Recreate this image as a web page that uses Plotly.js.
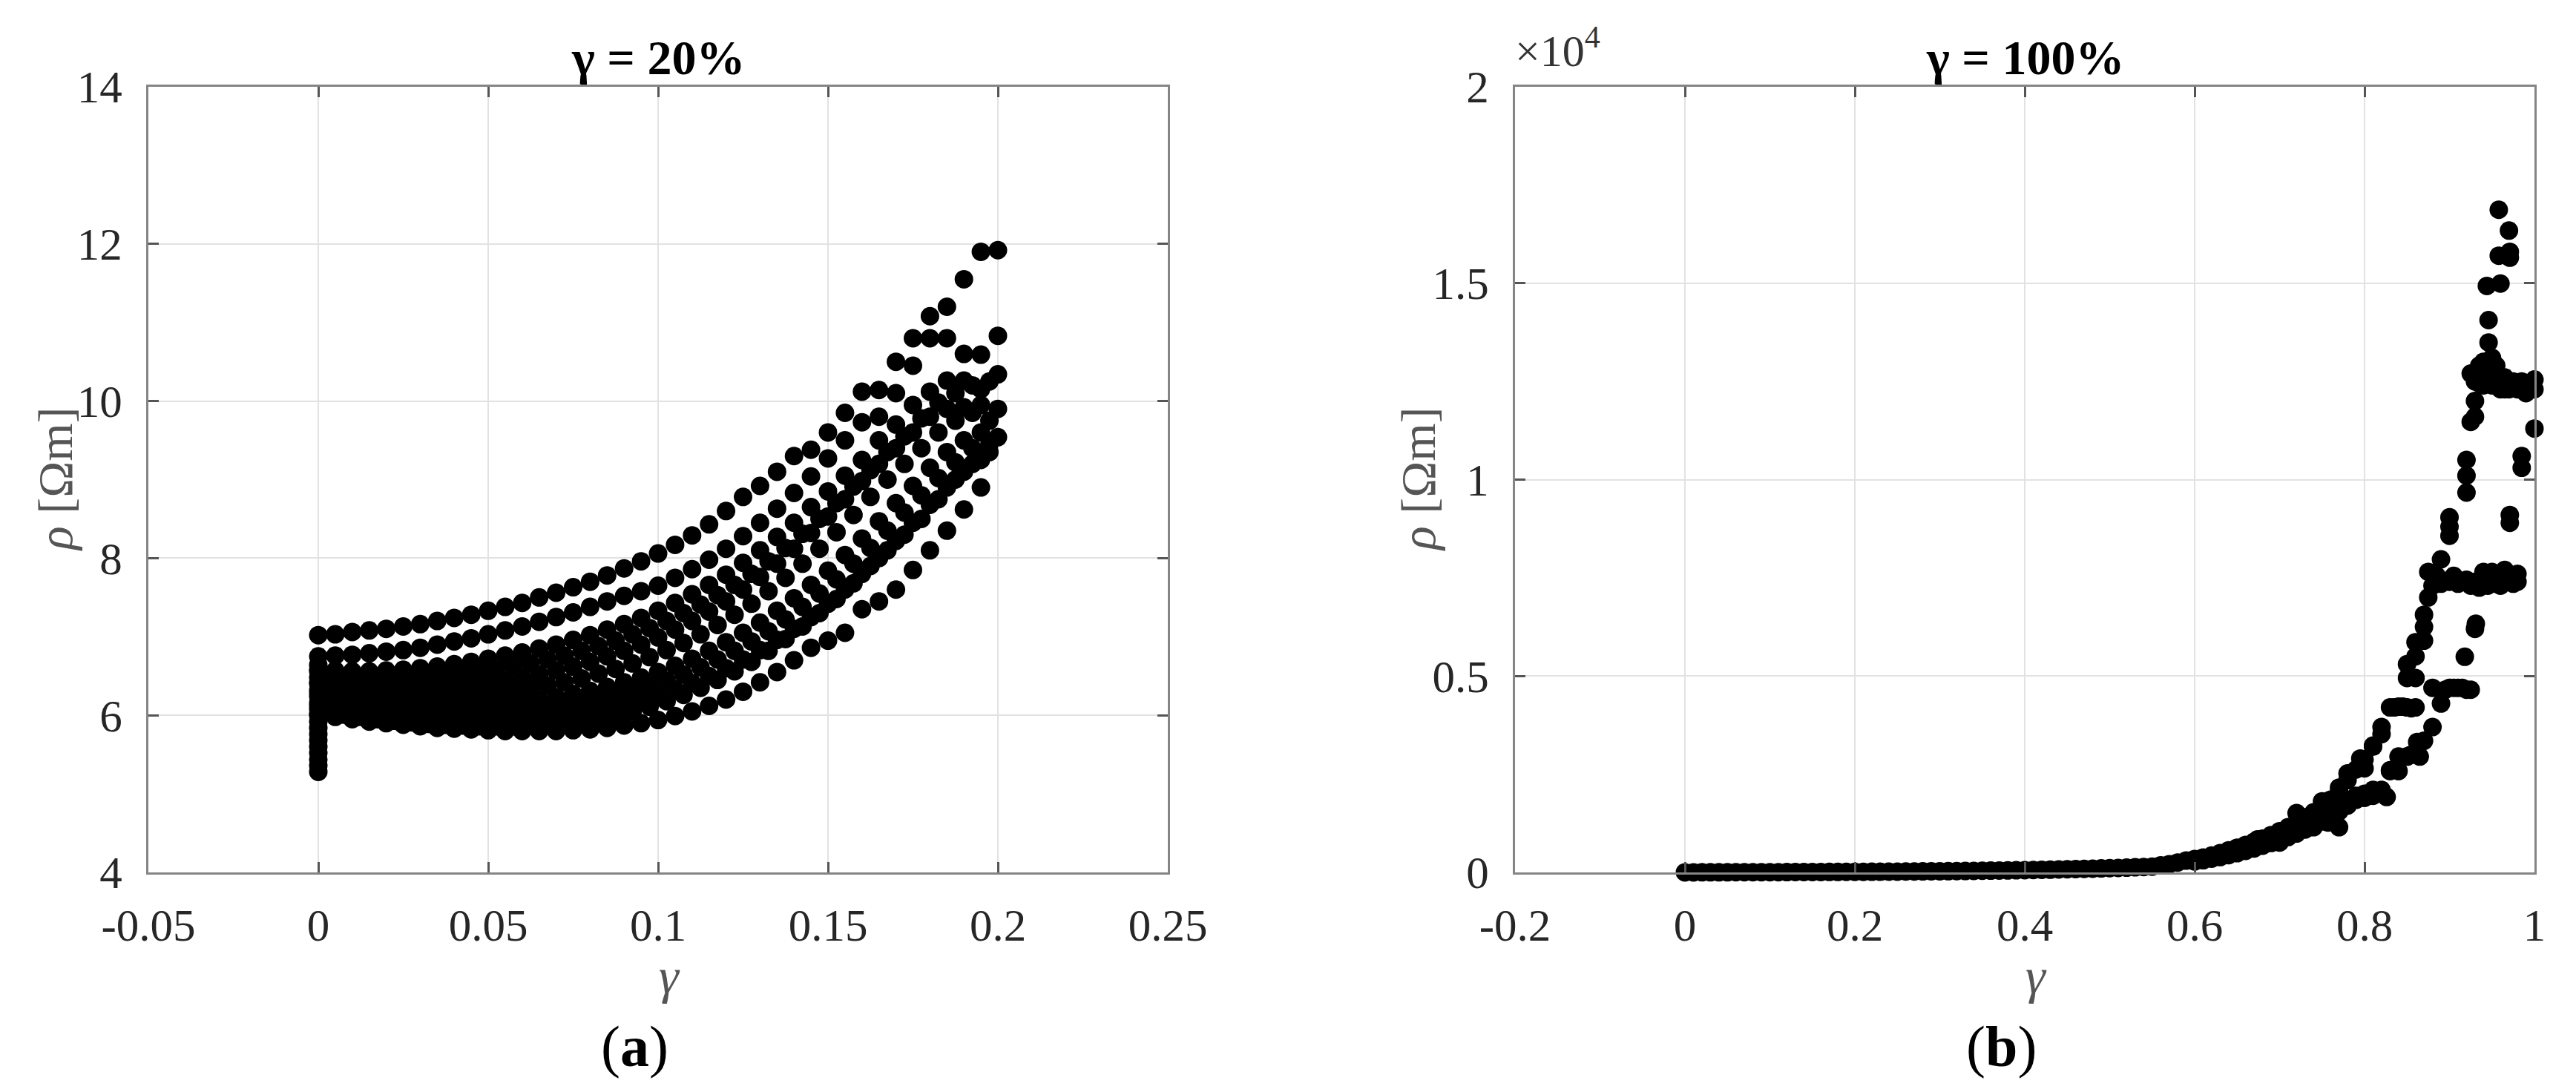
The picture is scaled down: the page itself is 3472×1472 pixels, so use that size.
<!DOCTYPE html>
<html>
<head>
<meta charset="utf-8">
<script src="https://cdn.plot.ly/plotly-3.0.1.min.js"></script>
<style>
    html, body { margin: 0; padding: 0; background: #fff; }
    #chart { width: 3472px; height: 1472px; }
</style>
</head>
<body>
<div id="chart"></div>
<script>
// ---------- (a) gamma = 20% ----------
// grid of gamma values shared by the curves
const gammaA = [0, 0.005, 0.01, 0.015, 0.02, 0.025, 0.03, 0.035, 0.04, 0.045,
    0.05, 0.055, 0.06, 0.065, 0.07, 0.075, 0.08, 0.085, 0.09, 0.095,
    0.1, 0.105, 0.11, 0.115, 0.12, 0.125, 0.13, 0.135, 0.14, 0.145,
    0.15, 0.155, 0.16, 0.165, 0.17, 0.175, 0.18, 0.185, 0.19, 0.195, 0.2];

const rhoA1 = [7.02, 7.03, 7.06, 7.08, 7.10, 7.13, 7.16, 7.20, 7.24, 7.28,
    7.33, 7.38, 7.43, 7.50, 7.56, 7.63, 7.70, 7.78, 7.87, 7.96,
    8.06, 8.17, 8.29, 8.43, 8.60, 8.78, 8.92, 9.10, 9.30, 9.38,
    9.60, 9.85, 10.12, 10.14, 10.50, 10.80, 11.08, 11.20, 11.55, 11.90, 11.92];
const rhoA2 = [6.75, 6.76, 6.77, 6.79, 6.81, 6.83, 6.86, 6.90, 6.94, 6.98,
    7.03, 7.08, 7.13, 7.19, 7.25, 7.31, 7.38, 7.45, 7.52, 7.58,
    7.65, 7.75, 7.86, 7.98, 8.12, 8.28, 8.45, 8.63, 8.83, 9.04,
    9.27, 9.50, 9.73, 9.80, 10.10, 10.45, 10.80, 10.80, 10.60, 10.59, 10.83];
const rhoA3 = [6.58, 6.57, 6.56, 6.56, 6.57, 6.58, 6.60, 6.62, 6.65, 6.68,
    6.72, 6.76, 6.80, 6.85, 6.90, 6.96, 7.02, 7.09, 7.16, 7.24,
    7.33, 7.43, 7.54, 7.66, 7.79, 7.94, 8.10, 8.27, 8.45, 8.65,
    8.85, 9.05, 9.25, 9.50, 9.70, 9.95, 10.12, 10.26, 10.26, 10.15, 10.34];
const rhoA4 = [6.42, 6.40, 6.38, 6.36, 6.35, 6.35, 6.35, 6.36, 6.37, 6.39,
    6.41, 6.44, 6.48, 6.52, 6.57, 6.62, 6.68, 6.75, 6.82, 6.90,
    6.99, 7.09, 7.20, 7.32, 7.45, 7.60, 7.76, 7.93, 8.12, 8.32,
    8.53, 8.75, 8.98, 9.20, 9.40, 9.60, 9.80, 9.90, 9.92, 9.95, 9.90];
const rhoA5 = [6.28, 6.25, 6.22, 6.20, 6.18, 6.16, 6.15, 6.14, 6.14, 6.14,
    6.15, 6.16, 6.18, 6.20, 6.23, 6.27, 6.31, 6.36, 6.42, 6.48,
    6.55, 6.63, 6.72, 6.82, 6.93, 7.05, 7.18, 7.33, 7.49, 7.66,
    7.84, 8.04, 8.25, 8.47, 8.70, 8.92, 9.15, 9.35, 9.50, 9.60, 9.54];
const rhoA6 = [6.12, 6.08, 6.04, 6.01, 5.98, 5.96, 5.94, 5.93, 5.92, 5.92,
    5.92, 5.93, 5.94, 5.96, 5.98, 6.01, 6.05, 6.09, 6.14, 6.20,
    6.26, 6.33, 6.41, 6.50, 6.60, 6.71, 6.83, 6.96, 7.10, 7.25,
    7.42, 7.60, 7.80, 8.00, 8.22, 8.45, 8.68, 8.90, 9.10, 9.25, null];
const rhoA7 = [6.02, 5.98, 5.95, 5.92, 5.90, 5.88, 5.86, 5.84, 5.83, 5.82,
    5.81, 5.80, 5.80, 5.80, 5.80, 5.81, 5.82, 5.84, 5.87, 5.90,
    5.94, 5.99, 6.05, 6.12, 6.20, 6.30, 6.42, 6.55, 6.70, 6.86,
    6.95, 7.05, 7.35, 7.45, 7.60, 7.85, 8.10, 8.35, 8.62, 8.90, null];

// curves sampled between the main grid
const gammaAh = [0.0025, 0.0075, 0.0125, 0.0175, 0.0225, 0.0275, 0.0325, 0.0375, 0.0425, 0.0475,
    0.0525, 0.0575, 0.0625, 0.0675, 0.0725, 0.0775, 0.0825, 0.0875, 0.0925, 0.0975,
    0.1025, 0.1075, 0.1125, 0.1175, 0.1225, 0.1275, 0.1325, 0.1375, 0.1425, 0.1475,
    0.1525, 0.1575, 0.1625, 0.1675, 0.1725, 0.1775, 0.1825, 0.1875, 0.1925, 0.1975];
const rhoA8 = [6.34, 6.31, 6.29, 6.27, 6.26, 6.25, 6.25, 6.25, 6.26, 6.27,
    6.29, 6.31, 6.34, 6.38, 6.42, 6.47, 6.53, 6.59, 6.66, 6.74,
    6.83, 6.92, 7.03, 7.15, 7.28, 7.42, 7.58, 7.75, 7.93, 8.12,
    8.33, 8.55, 8.78, 9.00, 9.20, 9.40, 9.60, 9.75, 9.85, 9.75];
const rhoA9 = [6.05, 6.01, 5.98, 5.95, 5.93, 5.91, 5.89, 5.88, 5.87, 5.86,
    5.86, 5.86, 5.87, 5.88, 5.90, 5.93, 5.96, 6.00, 6.05, 6.11,
    6.18, 6.26, 6.35, 6.45, 6.56, 6.68, 6.82, 6.97, 7.13, 7.30,
    7.48, 7.68, 7.90, 8.10, 8.30, 8.50, 8.75, 9.00, 9.20, 9.35];
const rhoA10 = [6.50, 6.49, 6.48, 6.47, 6.47, 6.47, 6.48, 6.50, 6.52, 6.55,
    6.58, 6.62, 6.66, 6.71, 6.76, 6.82, 6.88, 6.95, 7.03, 7.11,
    7.20, 7.30, 7.41, 7.53, 7.66, 7.80, 7.96, 8.13, 8.31, 8.50,
    8.70, 8.91, 9.12, 9.35, 9.55, 9.78, 9.98, 10.10, 10.20, 10.25];
const rhoA11 = [6.20, 6.17, 6.13, 6.10, 6.08, 6.06, 6.05, 6.04, 6.04, 6.04,
    6.05, 6.06, 6.08, 6.10, 6.13, 6.16, 6.20, 6.25, 6.31, 6.37,
    6.44, 6.52, 6.61, 6.71, 6.82, 6.94, 7.07, 7.22, 7.38, 7.55,
    7.73, 7.93, 8.13, 8.35, 8.58, 8.80, 9.02, 9.22, 9.40, 9.45];

// column of points at gamma = 0
const gammaA0 = [0, 0, 0, 0, 0, 0, 0, 0, 0, 0, 0, 0, 0, 0, 0, 0, 0, 0];
const rhoA0 = [5.28, 5.36, 5.44, 5.52, 5.60, 5.68, 5.76, 5.84, 5.92, 6.00,
    6.08, 6.16, 6.24, 6.32, 6.40, 6.48, 6.56, 6.64];

// ---------- (b) gamma = 100% ----------
const gammaB0 = [0, 0.01, 0.02, 0.03, 0.04, 0.05, 0.06, 0.07, 0.08, 0.09,
    0.1, 0.11, 0.12, 0.13, 0.14, 0.15, 0.16, 0.17, 0.18, 0.19,
    0.2, 0.21, 0.22, 0.23, 0.24, 0.25, 0.26, 0.27, 0.28, 0.29,
    0.3, 0.31, 0.32, 0.33, 0.34, 0.35, 0.36, 0.37, 0.38, 0.39,
    0.4, 0.41, 0.42, 0.43, 0.44, 0.45, 0.46, 0.47, 0.48, 0.49,
    0.5, 0.51, 0.52, 0.53, 0.54, 0.55];
const rhoB0 = [2, 2, 3, 3, 4, 4, 5, 5, 6, 6,
    7, 7, 8, 9, 9, 10, 11, 12, 13, 14,
    15, 16, 17, 18, 20, 21, 23, 24, 26, 28,
    30, 32, 34, 37, 39, 42, 45, 48, 51, 55,
    58, 62, 66, 70, 75, 80, 85, 90, 96, 102,
    108, 115, 122, 130, 138, 147];

const gammaB1 = [0.56, 0.57, 0.58, 0.59, 0.6, 0.61, 0.62, 0.63, 0.64, 0.65,
    0.66, 0.67, 0.68, 0.69, 0.7, 0.71, 0.72, 0.73, 0.74, 0.75,
    0.76, 0.77, 0.78, 0.79, 0.8, 0.81, 0.82, 0.83, 0.84, 0.85,
    0.86, 0.87, 0.88, 0.89, 0.9, 0.91, 0.92, 0.93, 0.94, 0.95,
    0.96, 0.97, 0.98];
const rhoB1 = [180, 210, 250, 300, 340, 380, 430, 490, 560, 630,
    700, 780, 860, 950, 1050, 1150, 1270, 1400, 1530, 1700,
    1850, 2050, 2350, 2620, 2880, 3200, 3700, 4200, 4220, 4200,
    4950, 5900, 7300, 7350, 7400, 7350, 7450, 7400, 7500, 7650,
    7450, 7500, 7400];

const gammaB2 = [0.6, 0.61, 0.62, 0.63, 0.64, 0.65, 0.66, 0.67, 0.68, 0.69,
    0.7, 0.71, 0.72, 0.73, 0.74, 0.75, 0.76, 0.77, 0.78, 0.79,
    0.8, 0.81, 0.82, 0.83, 0.84, 0.85, 0.86, 0.87, 0.88, 0.89,
    0.9, 0.91, 0.92, 0.93];
const rhoB2 = [280, 310, 350, 390, 440, 490, 550, 610, 680, 750,
    820, 900, 990, 1090, 1200, 1300, 1400, 1550, 1700, 1850,
    1900, 1950, 2100, 2600, 2950, 2950, 3000, 3350, 3700, 4300,
    4700, 4700, 4650, 6200];

// scattered points of the upper cloud
const gammaB3 = [0.76, 0.77, 0.78, 0.8, 0.81, 0.82, 0.826, 0.81, 0.84, 0.835,
    0.845, 0.855, 0.86, 0.85, 0.85, 0.86, 0.86, 0.862, 0.87, 0.87,
    0.875, 0.875, 0.88, 0.89, 0.9, 0.9, 0.9, 0.905, 0.915, 0.918,
    0.92, 0.92, 0.92, 0.931, 0.93, 0.93, 0.93, 0.935, 0.94, 0.94,
    0.945, 0.945, 0.946, 0.946, 0.95, 0.95, 0.944, 0.955, 0.955, 0.958,
    0.958, 0.96, 0.96, 0.965, 0.97, 0.971, 0.971, 0.97, 0.975, 0.98,
    0.985, 0.99, 0.995, 1.0, 1.0, 0.99, 0.971, 0.971, 0.985, 0.985,
    1.0, 0.965, 0.975, 0.98, 0.955, 0.935, 0.905, 0.925, 0.945, 0.885,
    0.94, 0.96, 0.895, 0.925, 0.85, 0.855, 0.865, 0.83, 0.795, 0.79,
    0.8, 0.75, 0.74, 0.72, 0.725, 0.77, 0.757, 0.71, 0.694, 0.674,
    0.7, 0.74, 0.65, 0.925, 0.935, 0.95, 0.965, 0.925];
const rhoB3 = [1820, 2160, 2520, 2650, 3230, 3520, 1920, 2100, 2580, 4200,
    4220, 4180, 4200, 4950, 5300, 5500, 5860, 3320, 6250, 6560,
    7000, 7650, 4700, 7970, 8570, 8800, 9040, 4700, 4700, 5490,
    9670, 10100, 10500, 6330, 11600, 12000, 12500, 12900, 12400, 13000,
    12500, 12900, 13490, 14060, 12400, 12800, 14930, 12400, 12900, 15700,
    16870, 14990, 12300, 12600, 16340, 15800, 15650, 12300, 12500, 12300,
    12500, 12200, 12400, 12300, 12550, 12450, 9100, 8900, 10600, 10300,
    11300, 7700, 7350, 7600, 7350, 7250, 7550, 7300, 7300, 7550,
    7650, 7300, 4650, 4650, 2950, 3000, 2950, 2580, 2900, 1950,
    2000, 1810, 1510, 1510, 1330, 1150, 1270, 1090, 900, 840,
    760, 1150, 600, 11470, 12450, 13100, 12300, 12700];

// ticks
const xTicksA = [-0.05, 0, 0.05, 0.1, 0.15, 0.2, 0.25];
const xTickTextA = ['-0.05', '0', '0.05', '0.1', '0.15', '0.2', '0.25'];
const yTicksA = [4, 6, 8, 10, 12, 14];
const xTicksB = [-0.2, 0, 0.2, 0.4, 0.6, 0.8, 1];
const xTickTextB = ['-0.2', '0', '0.2', '0.4', '0.6', '0.8', '1'];
const yTicksB = [0, 5000, 10000, 15000, 20000];
const yTickTextB = ['0', '0.5', '1', '1.5', '2'];

// ---------- layout ----------
const W = 3472, H = 1472;
const px = x => x / W;
const py = y => 1 - y / H;
const FONT = '"Liberation Serif", "Times New Roman", serif';

function dots(x, y, xa, ya) {
    return {
        x: x, y: y, xaxis: xa, yaxis: ya,
        type: 'scatter', mode: 'markers',
        marker: { color: '#000', size: 25, line: { width: 0 } },
        cliponaxis: false, showlegend: false, hoverinfo: 'x+y'
    };
}

const data = [
    dots(gammaA, rhoA1, 'x', 'y'),
    dots(gammaA, rhoA2, 'x', 'y'),
    dots(gammaA, rhoA3, 'x', 'y'),
    dots(gammaA, rhoA4, 'x', 'y'),
    dots(gammaA, rhoA5, 'x', 'y'),
    dots(gammaA, rhoA6, 'x', 'y'),
    dots(gammaA, rhoA7, 'x', 'y'),
    dots(gammaAh, rhoA8, 'x', 'y'),
    dots(gammaAh, rhoA9, 'x', 'y'),
    dots(gammaAh, rhoA10, 'x', 'y'),
    dots(gammaAh, rhoA11, 'x', 'y'),
    dots(gammaA0, rhoA0, 'x', 'y'),
    dots(gammaB0, rhoB0, 'x2', 'y2'),
    dots(gammaB1, rhoB1, 'x2', 'y2'),
    dots(gammaB2, rhoB2, 'x2', 'y2'),
    dots(gammaB3, rhoB3, 'x2', 'y2')
];

const axisStyle = {
    showline: true, linecolor: '#858585', linewidth: 3, mirror: 'ticks',
    ticks: 'inside', ticklen: 14, tickwidth: 3, tickcolor: '#555',
    showgrid: true, gridcolor: '#e2e2e2', gridwidth: 2, zeroline: false,
    tickfont: { family: FONT, size: 61, color: '#262626' },
    tickmode: 'array', fixedrange: true
};

const yDomain = [py(1176), py(117)];

const layout = {
    width: W, height: H,
    margin: { l: 0, r: 0, t: 0, b: 0 },
    paper_bgcolor: '#fff', plot_bgcolor: '#fff',
    showlegend: false,
    font: { family: FONT },
    xaxis: Object.assign({}, axisStyle, {
        domain: [px(200), px(1574)], range: [-0.05, 0.25], anchor: 'y',
        tickvals: xTicksA, ticktext: xTickTextA, ticklabelstandoff: 16
    }),
    yaxis: Object.assign({}, axisStyle, {
        domain: yDomain, range: [4, 14], anchor: 'x',
        tickvals: yTicksA, ticktext: yTicksA.map(String), ticklabelstandoff: 20
    }),
    xaxis2: Object.assign({}, axisStyle, {
        domain: [px(2042), px(3416)], range: [-0.2, 1], anchor: 'y2',
        tickvals: xTicksB, ticktext: xTickTextB, ticklabelstandoff: 16
    }),
    yaxis2: Object.assign({}, axisStyle, {
        domain: yDomain, range: [0, 20000], anchor: 'x2',
        tickvals: yTicksB, ticktext: yTickTextB, ticklabelstandoff: 20
    }),
    annotations: [
        // titles
        { text: '<b>γ = 20%</b>', x: px(887), y: py(78), xref: 'paper', yref: 'paper',
          xanchor: 'center', yanchor: 'middle', showarrow: false,
          font: { family: FONT, size: 66, color: '#000' } },
        { text: '<b>γ = 100%</b>', x: px(2729), y: py(78), xref: 'paper', yref: 'paper',
          xanchor: 'center', yanchor: 'middle', showarrow: false,
          font: { family: FONT, size: 66, color: '#000' } },
        // axis titles
        { text: '<i>γ</i>', x: px(902), y: py(1316), xref: 'paper', yref: 'paper',
          xanchor: 'center', yanchor: 'middle', showarrow: false,
          font: { family: FONT, size: 68, color: '#555' } },
        { text: '<i>γ</i>', x: px(2744), y: py(1316), xref: 'paper', yref: 'paper',
          xanchor: 'center', yanchor: 'middle', showarrow: false,
          font: { family: FONT, size: 68, color: '#555' } },
        { text: '<i>ρ</i> [Ωm]', x: px(75), y: py(646), xref: 'paper', yref: 'paper',
          xanchor: 'center', yanchor: 'middle', textangle: -90, showarrow: false,
          font: { family: FONT, size: 66, color: '#555' } },
        { text: '<i>ρ</i> [Ωm]', x: px(1912), y: py(646), xref: 'paper', yref: 'paper',
          xanchor: 'center', yanchor: 'middle', textangle: -90, showarrow: false,
          font: { family: FONT, size: 66, color: '#555' } },
        // exponent of the right y axis
        { text: '×10<sup>4</sup>', x: px(2040), y: py(104), xref: 'paper', yref: 'paper',
          xanchor: 'left', yanchor: 'bottom', showarrow: false,
          font: { family: FONT, size: 60, color: '#333' } },
        // panel letters
        { text: '(<b>a</b>)', x: px(855), y: py(1410), xref: 'paper', yref: 'paper',
          xanchor: 'center', yanchor: 'middle', showarrow: false,
          font: { family: FONT, size: 78, color: '#000' } },
        { text: '(<b>b</b>)', x: px(2697), y: py(1410), xref: 'paper', yref: 'paper',
          xanchor: 'center', yanchor: 'middle', showarrow: false,
          font: { family: FONT, size: 78, color: '#000' } }
    ]
};

Plotly.newPlot('chart', data, layout, { staticPlot: true, displayModeBar: false });
</script>
</body>
</html>
